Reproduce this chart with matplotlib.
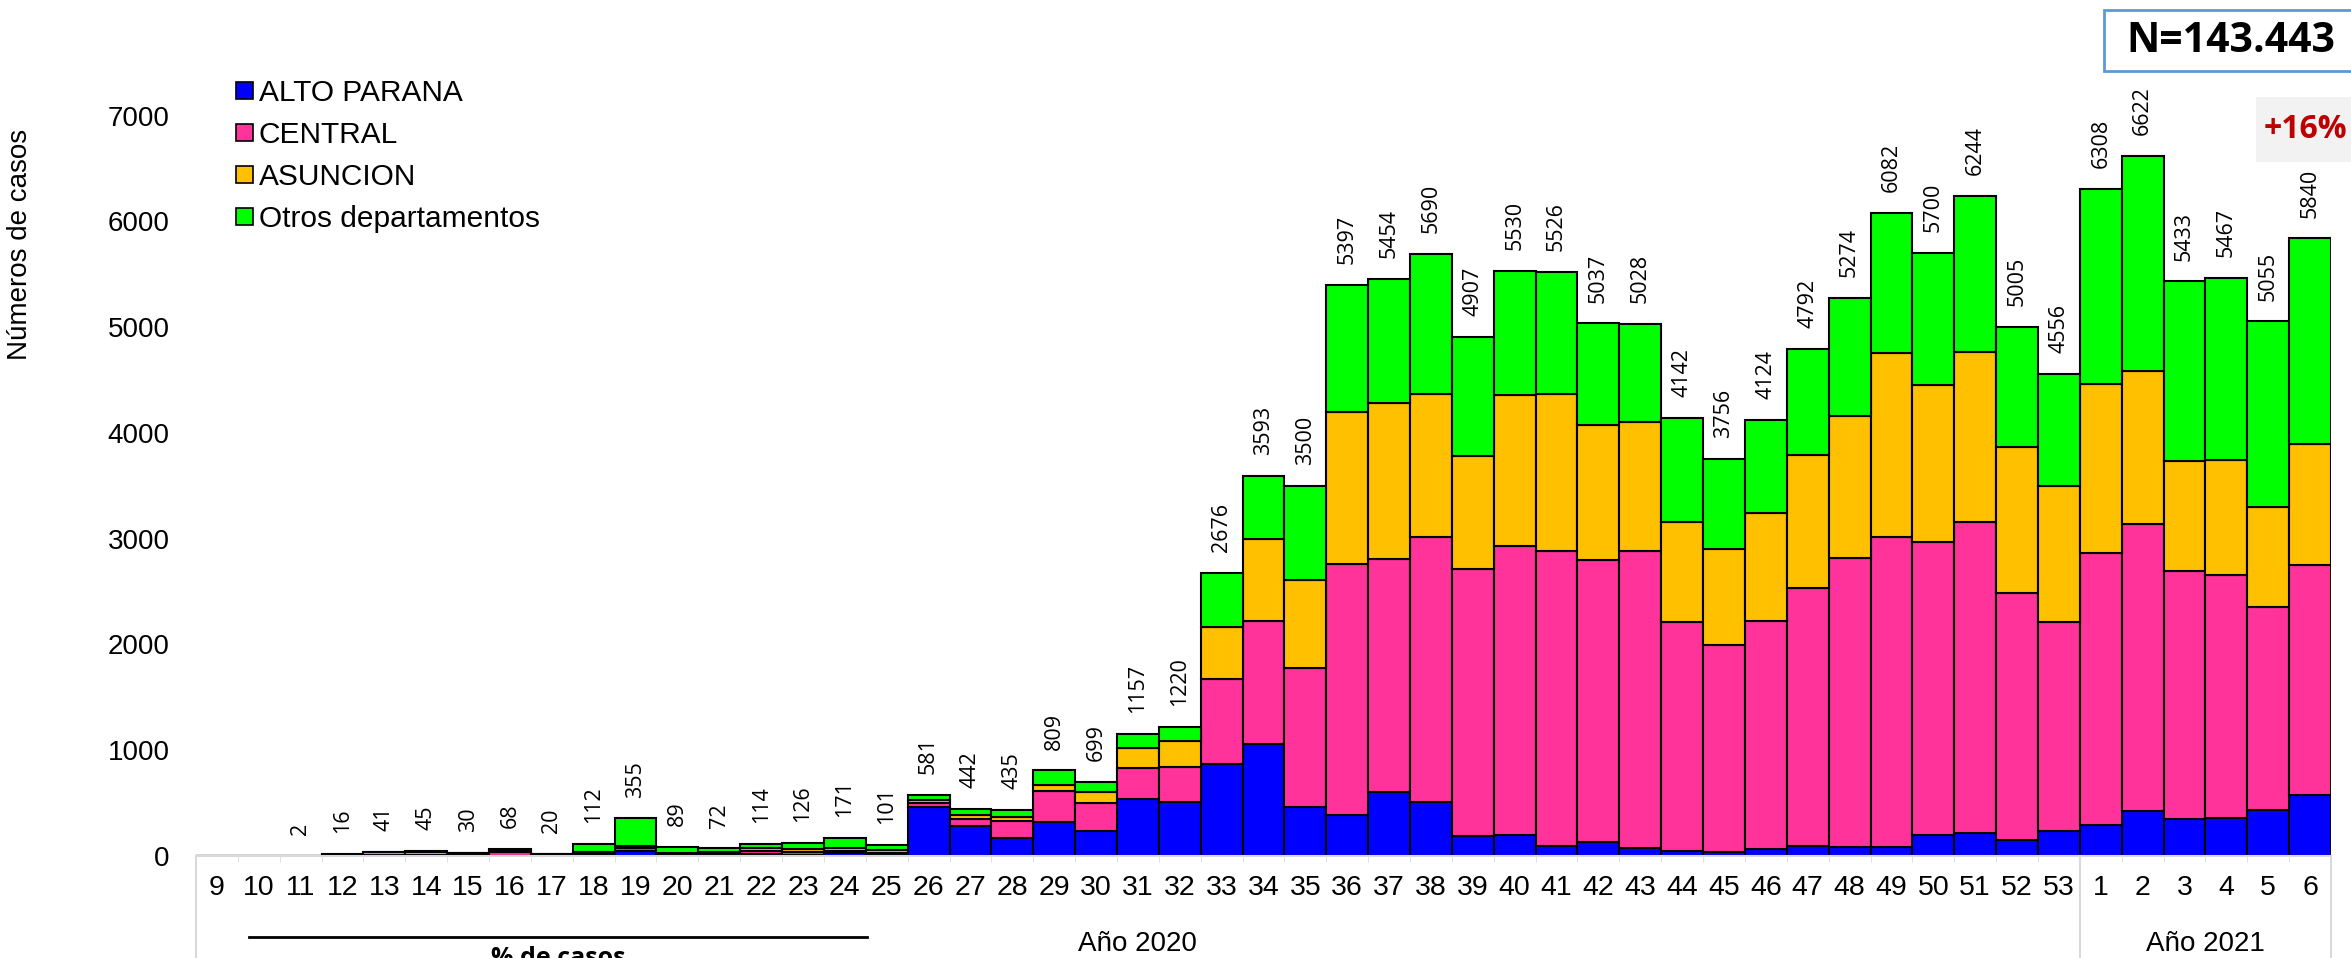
import matplotlib
matplotlib.use("Agg")
import matplotlib.pyplot as plt
from matplotlib.patches import Rectangle, Patch
from matplotlib.lines import Line2D
import matplotlib.transforms as mtransforms
import numpy as np

# semanas epidemiologicas (2020: 9-53, 2021: 1-6)
weeks = [str(w) for w in range(9, 54)] + [str(w) for w in range(1, 7)]

alto_parana = [0, 0, 0, 0, 0, 0, 0, 0, 0, 10, 45, 5, 5, 15, 10, 32, 5,
               460, 284, 173, 321, 240, 539, 514, 870, 1059, 468, 385, 609, 506,
               193, 196, 93, 134, 76, 48, 38, 65, 99, 86, 86, 203, 213, 151, 237,
               293, 428, 354, 361, 432, 578]
central = [0, 0, 0, 6, 10, 12, 10, 35, 8, 15, 30, 12, 15, 30, 25, 20, 20,
           45, 63, 158, 294, 258, 296, 324, 804, 1166, 1306, 2372, 2197, 2509,
           2520, 2733, 2795, 2661, 2809, 2166, 1960, 2160, 2435, 2730, 2926, 2768,
           2947, 2339, 1977,
           2575, 2711, 2344, 2296, 1925, 2172]
asuncion = [0, 0, 2, 8, 25, 27, 15, 20, 8, 15, 20, 15, 17, 30, 35, 21, 29,
            20, 41, 41, 56, 110, 183, 252, 491, 772, 832, 1438, 1475, 1358,
            1069, 1427, 1485, 1276, 1220, 942, 904, 1014, 1259, 1348, 1743, 1482,
            1602, 1382, 1283,
            1592, 1451, 1035, 1084, 943, 1148]
otros = [0, 0, 0, 2, 6, 6, 5, 13, 4, 72, 260, 57, 35, 39, 56, 98, 47,
         56, 54, 63, 138, 91, 139, 130, 511, 596, 894, 1202, 1173, 1317,
         1125, 1174, 1153, 966, 923, 986, 854, 885, 999, 1110, 1327, 1247,
         1482, 1133, 1059,
         1848, 2032, 1700, 1726, 1755, 1942]

series_names = ["ALTO PARANA", "CENTRAL", "ASUNCION", "Otros departamentos"]
series_colors = ["#0000FF", "#FF3399", "#FFC000", "#00FF00"]

W, H = 2351, 958
fig = plt.figure(figsize=(W / 100, H / 100), dpi=100)
plt.rcParams['font.family'] = ['Liberation Sans', 'DejaVu Sans']

def fx(px):
    return px / W

def fy(py):
    return 1 - py / H

ax = fig.add_axes([fx(196), fy(856), fx(2331 - 196), (856 - 10) / H])

x = np.arange(len(weeks))
bottom = np.zeros(len(weeks))
for vals, name, col in zip([alto_parana, central, asuncion, otros], series_names, series_colors):
    vals = np.array(vals, dtype=float)
    ax.bar(x, vals, width=1.0, bottom=bottom, color=col, edgecolor="black",
           linewidth=1.5, label=name)
    bottom += vals

# totales arriba de cada barra
for i, tot in enumerate(bottom):
    if tot > 0:
        ax.annotate(str(int(tot)), (i, tot), xytext=(0, 15), textcoords="offset points",
                    rotation=90, ha="center", va="bottom", fontsize=15.5,
                    family=["Open Sans", "DejaVu Sans"])

ax.set_xlim(-0.5, len(weeks) - 0.5)
ax.set_ylim(0, 8000)
ax.set_yticks(range(0, 8000, 1000))
ax.tick_params(axis="y", length=0, pad=19, labelsize=20)
ax.set_xticks(x)
ax.set_xticklabels(weeks)
ax.tick_params(axis="x", length=0, pad=14, labelsize=20.5)
ax.set_xticks(np.arange(-0.5, len(weeks), 1.0), minor=True)
ax.tick_params(axis="x", which="minor", length=4, color="#d9d9d9")
for s in ["top", "right", "left"]:
    ax.spines[s].set_visible(False)
ax.spines["bottom"].set_color("#d9d9d9")
ax.spines["bottom"].set_linewidth(1.5)

# separadores de años
trans = mtransforms.blended_transform_factory(ax.transData, ax.transAxes)
for xs in [-0.5, 44.5, len(weeks) - 0.5]:
    ax.plot([xs, xs], [0, -0.13], color="#d9d9d9", lw=1.5, transform=trans, clip_on=False)
ax.text(22, (856 - 944) / 846, "Año 2020", transform=trans, ha="center", va="center", fontsize=20)
ax.text(47.5, (856 - 944) / 846, "Año 2021", transform=trans, ha="center", va="center", fontsize=20)

# leyenda
handles = [Patch(facecolor=c, edgecolor="black", linewidth=1.2) for c in series_colors]
fig.legend(handles, series_names, loc="upper left", bbox_to_anchor=(fx(236), fy(79)),
           frameon=False, fontsize=21.5, handlelength=0.56, handleheight=0.5,
           handletextpad=0.2, labelspacing=0.47, borderpad=0, borderaxespad=0)

fig.text(fx(20), fy(244), "Números de casos", rotation=90, ha="center", va="center", fontsize=20)

# linea "% de casos"
fig.add_artist(Line2D([fx(249), fx(867)], [fy(937), fy(937)], color="black", lw=2))
fig.text(fx(558), fy(946), "% de casos", ha="center", va="top", fontsize=18,
         fontweight="bold", family=["Open Sans", "DejaVu Sans"])

# recuadro N
fig.add_artist(Rectangle((fx(2104), fy(71)), fx(260), 61 / H, facecolor="white",
                         edgecolor="#5B9BD5", lw=2))
fig.text(fx(2126), fy(42), "N=143.443", ha="left", va="center", fontsize=29.5,
         fontweight="bold", family=["Open Sans", "DejaVu Sans"])

fig.add_artist(Rectangle((fx(2256), fy(162)), fx(110), 65 / H, facecolor="#F2F2F2",
                         edgecolor="none"))
fig.text(fx(2264), fy(129), "+16%", ha="left", va="center", fontsize=23,
         fontweight="bold", color="#C00000", family=["Open Sans", "DejaVu Sans"])

fig.savefig("out.png", dpi=100)
